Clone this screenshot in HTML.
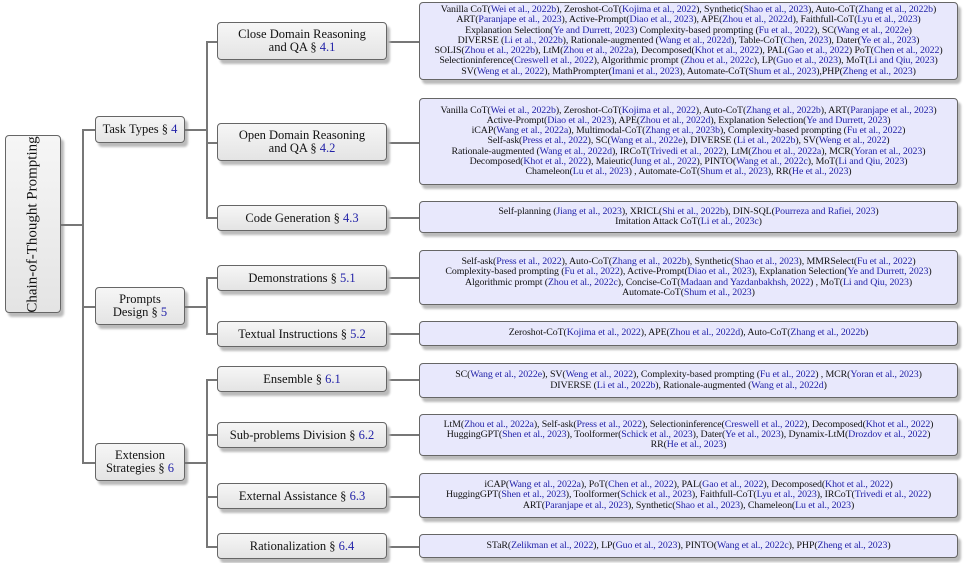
<!DOCTYPE html>
<html><head><meta charset="utf-8"><style>
body{margin:0;width:965px;height:563px;background:#fff;position:relative;overflow:hidden;font-family:"Liberation Serif",serif;color:#111}
.b{position:absolute;box-sizing:border-box;border:1.3px solid #666;border-radius:4px;box-shadow:3px 4px 2px #bbb;display:flex;align-items:center;justify-content:center;text-align:center}
.g{background:linear-gradient(#f6f6f6,#e4e4e4);font-size:12.5px;line-height:13px}
.l{background:#e8e8fc;font-size:9.9px;line-height:10.2px;white-space:nowrap;letter-spacing:-0.1px}
.h{position:absolute;height:1.5px;background:#777}
.v{position:absolute;width:1.5px;background:#777}
a,.c{color:#2222a8;text-decoration:none}
</style></head><body>
<!-- root -->
<div class="b g" style="left:5px;top:135px;width:56px;height:178px"><div style="transform:rotate(-90deg);white-space:nowrap;font-size:15px">Chain-of-Thought Prompting</div></div>
<div class="h" style="left:61px;top:224px;width:21px"></div>
<div class="v" style="left:82px;top:129px;height:334px"></div>
<div class="h" style="left:82px;top:129px;width:13px"></div>
<div class="h" style="left:82px;top:306px;width:13px"></div>
<div class="h" style="left:82px;top:462px;width:13px"></div>
<!-- level1 -->
<div class="b g" style="left:95px;top:116px;width:90px;height:27px"><div>Task Types § <span class="c">4</span></div></div>
<div class="b g" style="left:95px;top:287px;width:90px;height:38px"><div>Prompts<br>Design § <span class="c">5</span></div></div>
<div class="b g" style="left:95px;top:443px;width:90px;height:38px"><div>Extension<br>Strategies § <span class="c">6</span></div></div>
<div class="h" style="left:185px;top:129px;width:21px"></div>
<div class="h" style="left:185px;top:306px;width:21px"></div>
<div class="h" style="left:185px;top:462px;width:21px"></div>
<div class="v" style="left:206px;top:41px;height:177px"></div>
<div class="v" style="left:206px;top:277px;height:57px"></div>
<div class="v" style="left:206px;top:379px;height:168px"></div>
<!-- level2 connectors -->
<div class="h" style="left:206px;top:41px;width:213px"></div>
<div class="h" style="left:206px;top:142px;width:213px"></div>
<div class="h" style="left:206px;top:217px;width:213px"></div>
<div class="h" style="left:206px;top:277px;width:213px"></div>
<div class="h" style="left:206px;top:333px;width:213px"></div>
<div class="h" style="left:206px;top:379px;width:213px"></div>
<div class="h" style="left:206px;top:434px;width:213px"></div>
<div class="h" style="left:206px;top:496px;width:213px"></div>
<div class="h" style="left:206px;top:546px;width:213px"></div>
<!-- level2 -->
<div class="b g" style="left:217px;top:22px;width:170px;height:38px"><div>Close Domain Reasoning<br>and QA § <span class="c">4.1</span></div></div>
<div class="b g" style="left:217px;top:123px;width:170px;height:38px"><div>Open Domain Reasoning<br>and QA § <span class="c">4.2</span></div></div>
<div class="b g" style="left:217px;top:205px;width:170px;height:26px"><div>Code Generation § <span class="c">4.3</span></div></div>
<div class="b g" style="left:217px;top:265px;width:170px;height:26px"><div>Demonstrations § <span class="c">5.1</span></div></div>
<div class="b g" style="left:217px;top:321px;width:170px;height:26px"><div>Textual Instructions § <span class="c">5.2</span></div></div>
<div class="b g" style="left:217px;top:366px;width:170px;height:26px"><div>Ensemble § <span class="c">6.1</span></div></div>
<div class="b g" style="left:217px;top:422px;width:170px;height:26px"><div>Sub-problems Division § <span class="c">6.2</span></div></div>
<div class="b g" style="left:217px;top:483px;width:170px;height:26px"><div>External Assistance § <span class="c">6.3</span></div></div>
<div class="b g" style="left:217px;top:533px;width:170px;height:26px"><div>Rationalization § <span class="c">6.4</span></div></div>
<!-- leaves -->
<div class="b l" style="left:419px;top:2px;width:539px;height:78px"><div>
Vanilla CoT(<a>Wei et al., 2022b</a>), Zeroshot-CoT(<a>Kojima et al., 2022</a>), Synthetic(<a>Shao et al., 2023</a>), Auto-CoT(<a>Zhang et al., 2022b</a>)<br>
ART(<a>Paranjape et al., 2023</a>), Active-Prompt(<a>Diao et al., 2023</a>), APE(<a>Zhou et al., 2022d</a>), Faithfull-CoT(<a>Lyu et al., 2023</a>)<br>
Explanation Selection(<a>Ye and Durrett, 2023</a>) Complexity-based prompting (<a>Fu et al., 2022</a>), SC(<a>Wang et al., 2022e</a>)<br>
DIVERSE (<a>Li et al., 2022b</a>), Rationale-augmented (<a>Wang et al., 2022d</a>), Table-CoT(<a>Chen, 2023</a>), Dater(<a>Ye et al., 2023</a>)<br>
SOLIS(<a>Zhou et al., 2022b</a>), LtM(<a>Zhou et al., 2022a</a>), Decomposed(<a>Khot et al., 2022</a>), PAL(<a>Gao et al., 2022</a>) PoT(<a>Chen et al., 2022</a>)<br>
Selectioninference(<a>Creswell et al., 2022</a>), Algorithmic prompt (<a>Zhou et al., 2022c</a>), LP(<a>Guo et al., 2023</a>), MoT(<a>Li and Qiu, 2023</a>)<br>
SV(<a>Weng et al., 2022</a>), MathPrompter(<a>Imani et al., 2023</a>), Automate-CoT(<a>Shum et al., 2023</a>),PHP(<a>Zheng et al., 2023</a>)</div></div>
<div class="b l" style="left:419px;top:98px;width:539px;height:87px"><div>
Vanilla CoT(<a>Wei et al., 2022b</a>), Zeroshot-CoT(<a>Kojima et al., 2022</a>), Auto-CoT(<a>Zhang et al., 2022b</a>), ART(<a>Paranjape et al., 2023</a>)<br>
Active-Prompt(<a>Diao et al., 2023</a>), APE(<a>Zhou et al., 2022d</a>), Explanation Selection(<a>Ye and Durrett, 2023</a>)<br>
iCAP(<a>Wang et al., 2022a</a>), Multimodal-CoT(<a>Zhang et al., 2023b</a>), Complexity-based prompting (<a>Fu et al., 2022</a>)<br>
Self-ask(<a>Press et al., 2022</a>), SC(<a>Wang et al., 2022e</a>), DIVERSE (<a>Li et al., 2022b</a>), SV(<a>Weng et al., 2022</a>)<br>
Rationale-augmented (<a>Wang et al., 2022d</a>), IRCoT(<a>Trivedi et al., 2022</a>), LtM(<a>Zhou et al., 2022a</a>), MCR(<a>Yoran et al., 2023</a>)<br>
Decomposed(<a>Khot et al., 2022</a>), Maieutic(<a>Jung et al., 2022</a>), PINTO(<a>Wang et al., 2022c</a>), MoT(<a>Li and Qiu, 2023</a>)<br>
Chameleon(<a>Lu et al., 2023</a>) , Automate-CoT(<a>Shum et al., 2023</a>), RR(<a>He et al., 2023</a>)</div></div>
<div class="b l" style="left:419px;top:201px;width:539px;height:32px"><div>
Self-planning (<a>Jiang et al., 2023</a>), XRICL(<a>Shi et al., 2022b</a>), DIN-SQL(<a>Pourreza and Rafiei, 2023</a>)<br>
Imitation Attack CoT(<a>Li et al., 2023c</a>)</div></div>
<div class="b l" style="left:419px;top:250px;width:539px;height:55px"><div>
Self-ask(<a>Press et al., 2022</a>), Auto-CoT(<a>Zhang et al., 2022b</a>), Synthetic(<a>Shao et al., 2023</a>), MMRSelect(<a>Fu et al., 2022</a>)<br>
Complexity-based prompting (<a>Fu et al., 2022</a>), Active-Prompt(<a>Diao et al., 2023</a>), Explanation Selection(<a>Ye and Durrett, 2023</a>)<br>
Algorithmic prompt (<a>Zhou et al., 2022c</a>), Concise-CoT(<a>Madaan and Yazdanbakhsh, 2022</a>) , MoT(<a>Li and Qiu, 2023</a>)<br>
Automate-CoT(<a>Shum et al., 2023</a>)</div></div>
<div class="b l" style="left:419px;top:321px;width:539px;height:25px"><div>
Zeroshot-CoT(<a>Kojima et al., 2022</a>), APE(<a>Zhou et al., 2022d</a>), Auto-CoT(<a>Zhang et al., 2022b</a>)</div></div>
<div class="b l" style="left:419px;top:363px;width:539px;height:35px"><div>
SC(<a>Wang et al., 2022e</a>), SV(<a>Weng et al., 2022</a>), Complexity-based prompting (<a>Fu et al., 2022</a>) , MCR(<a>Yoran et al., 2023</a>)<br>
DIVERSE (<a>Li et al., 2022b</a>), Rationale-augmented (<a>Wang et al., 2022d</a>)</div></div>
<div class="b l" style="left:419px;top:414px;width:539px;height:42px"><div>
LtM(<a>Zhou et al., 2022a</a>), Self-ask(<a>Press et al., 2022</a>), Selectioninference(<a>Creswell et al., 2022</a>), Decomposed(<a>Khot et al., 2022</a>)<br>
HuggingGPT(<a>Shen et al., 2023</a>), Toolformer(<a>Schick et al., 2023</a>), Dater(<a>Ye et al., 2023</a>), Dynamix-LtM(<a>Drozdov et al., 2022</a>)<br>
RR(<a>He et al., 2023</a>)</div></div>
<div class="b l" style="left:419px;top:473px;width:539px;height:45px"><div>
iCAP(<a>Wang et al., 2022a</a>), PoT(<a>Chen et al., 2022</a>), PAL(<a>Gao et al., 2022</a>), Decomposed(<a>Khot et al., 2022</a>)<br>
HuggingGPT(<a>Shen et al., 2023</a>), Toolformer(<a>Schick et al., 2023</a>), Faithfull-CoT(<a>Lyu et al., 2023</a>), IRCoT(<a>Trivedi et al., 2022</a>)<br>
ART(<a>Paranjape et al., 2023</a>), Synthetic(<a>Shao et al., 2023</a>), Chameleon(<a>Lu et al., 2023</a>)</div></div>
<div class="b l" style="left:419px;top:534px;width:539px;height:24px"><div>
STaR(<a>Zelikman et al., 2022</a>), LP(<a>Guo et al., 2023</a>), PINTO(<a>Wang et al., 2022c</a>), PHP(<a>Zheng et al., 2023</a>)</div></div>
</body></html>
